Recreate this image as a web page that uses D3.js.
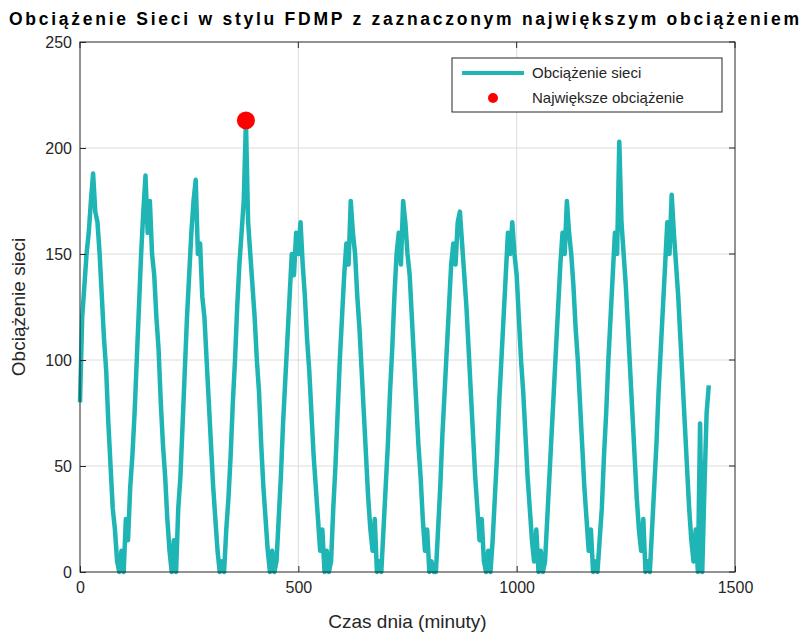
<!DOCTYPE html>
<html><head><meta charset="utf-8">
<script src="https://cdn.jsdelivr.net/npm/d3@7"></script>
<style>body{margin:0;background:#fff}text{font-family:Arial,"Liberation Sans",sans-serif}</style>
</head><body><svg id="c" width="804" height="640"></svg>
<script>
// load sampled every 5 minutes, 0..1440
const step = 5;
const load = [
80,120,135,150,160,175,188,170,165,150,130,110,95,70,50,30,20,5,0,10,0,25,15,40,
55,75,100,125,150,170,187,160,175,150,140,120,105,80,60,45,25,10,0,15,0,30,45,70,
95,120,140,160,175,185,150,155,130,120,100,80,60,40,25,10,0,5,0,20,35,55,80,100,
125,145,160,175,213,165,150,135,120,100,85,60,40,25,10,0,
10,0,5,25,45,70,90,110,130,150,140,160,150,165,145,130,110,95,75,55,40,25,10,20,0,10,0,5,
30,50,75,100,120,140,155,145,175,160,150,130,115,95,75,55,35,20,10,25,0,5,0,20,
40,60,85,105,130,150,160,145,175,165,150,140,120,100,80,60,45,25,10,20,0,5,0,0,
20,40,65,85,105,125,145,155,145,165,170,155,140,125,105,85,65,45,30,15,25,5,0,10,
0,15,35,55,80,100,120,140,160,150,165,150,140,120,100,85,65,45,30,15,5,20,0,10,
0,5,25,45,65,85,105,125,145,160,150,175,160,150,135,115,100,80,60,40,25,10,20,0,
5,0,15,30,55,75,100,120,140,160,150,203,165,150,135,115,95,75,55,35,20,10,25,0,
5,0,20,40,60,85,105,125,145,165,150,178,160,145,130,110,90,70,50,30,15,5,20,0,
70,0,40,75,88
];
const xTicks = [0, 500, 1000, 1500];
const yTicks = [0, 50, 100, 150, 200, 250];
const titleText = "Obciążenie Sieci w stylu FDMP z zaznaczonym największym obciążeniem";
const seriesName = "Obciążenie sieci";
const peakName = "Największe obciążenie";

const svg = d3.select("#c");
const L = 80, R = 735, T = 42, B = 572;
const x = d3.scaleLinear().domain([0, 1500]).range([L, R]);
const y = d3.scaleLinear().domain([0, 250]).range([B, T]);
const col = "#1fb5b5";

// grid
svg.append("g").selectAll("line").data(xTicks.slice(1, -1)).join("line")
  .attr("x1", d => x(d)).attr("x2", d => x(d)).attr("y1", T).attr("y2", B)
  .attr("stroke", "#dcdcdc");
svg.append("g").selectAll("line").data(yTicks.slice(1, -1)).join("line")
  .attr("y1", d => y(d)).attr("y2", d => y(d)).attr("x1", L).attr("x2", R)
  .attr("stroke", "#dcdcdc");

// line
const pts = load.map((v, i) => [i * step, v]);
svg.append("path").datum(pts)
  .attr("fill", "none").attr("stroke", col).attr("stroke-width", 4.5)
  .attr("stroke-linejoin", "round")
  .attr("d", d3.line().x(d => x(d[0])).y(d => y(d[1])));

// peak
const mi = d3.maxIndex(load);
svg.append("circle").attr("cx", x(mi * step)).attr("cy", y(load[mi])).attr("r", 9).attr("fill", "#f00");

// axes
const ax = svg.append("g").attr("transform", `translate(0,${B})`)
  .call(d3.axisBottom(x).tickValues(xTicks).tickFormat(d3.format("d")).tickSize(-6).tickPadding(10));
const ay = svg.append("g").attr("transform", `translate(${L},0)`)
  .call(d3.axisLeft(y).tickValues(yTicks).tickFormat(d3.format("d")).tickSize(-6).tickPadding(8));
[ax, ay].forEach(a => {
  a.select(".domain").remove();
  a.selectAll("line").attr("stroke", "#262626");
  a.selectAll("text").attr("font-size", 16).attr("fill", "#262626");
});
svg.append("g").selectAll("line").data(xTicks).join("line")
  .attr("x1", d => x(d)).attr("x2", d => x(d)).attr("y1", T).attr("y2", T + 6).attr("stroke", "#262626");
svg.append("g").selectAll("line").data(yTicks).join("line")
  .attr("y1", d => y(d)).attr("y2", d => y(d)).attr("x1", R).attr("x2", R - 6).attr("stroke", "#262626");
svg.append("rect").attr("x", L).attr("y", T).attr("width", R - L).attr("height", B - T)
  .attr("fill", "none").attr("stroke", "#262626");

// labels
svg.append("text").attr("x", 404).attr("y", 25).attr("text-anchor", "middle")
  .attr("font-size", 17.5).attr("font-weight", "bold").attr("textLength", 790).text(titleText);
svg.append("text").attr("x", (L + R) / 2).attr("y", 628).attr("text-anchor", "middle")
  .attr("font-size", 19).attr("fill", "#262626").text("Czas dnia (minuty)");
svg.append("text").attr("transform", `translate(25,${(T + B) / 2}) rotate(-90)`)
  .attr("text-anchor", "middle").attr("font-size", 19).attr("fill", "#262626").text("Obciążenie sieci");

// legend
const lg = svg.append("g").attr("transform", "translate(452,58)");
lg.append("rect").attr("width", 270).attr("height", 54).attr("fill", "#fff").attr("stroke", "#262626");
lg.append("line").attr("x1", 10).attr("x2", 72).attr("y1", 15).attr("y2", 15).attr("stroke", col).attr("stroke-width", 4);
lg.append("circle").attr("cx", 41).attr("cy", 40).attr("r", 5).attr("fill", "#f00");
lg.append("text").attr("x", 80).attr("y", 20).attr("font-size", 15).attr("fill", "#262626").text(seriesName);
lg.append("text").attr("x", 80).attr("y", 45).attr("font-size", 15).attr("fill", "#262626").text(peakName);
</script></body></html>
